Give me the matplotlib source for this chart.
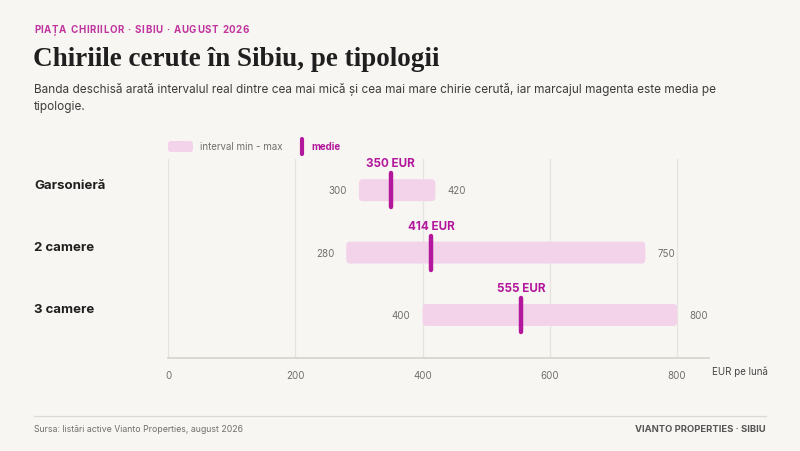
import matplotlib
matplotlib.use("Agg")
import matplotlib.pyplot as plt
import matplotlib.transforms as mtransforms
from matplotlib.patches import FancyBboxPatch
from matplotlib.lines import Line2D

categories = ["Garsonieră", "2 camere", "3 camere"]
min_vals = [300, 280, 400]
max_vals = [420, 750, 800]
mean_vals = [350, 414, 555]
x_ticks = [0, 200, 400, 600, 800]

BG = "#f8f6f2"
PINK = "#f3d3ea"
MAGENTA = "#b3179c"
GRID = "#e7e3dd"
DARK = "#1f1f1f"
GRAY = "#6f6f6f"

W, H = 800, 452
fig = plt.figure(figsize=(8, 4.52), dpi=100, facecolor=BG)

def px(x, y):
    return x / W, 1 - y / H

ax_left, ax_right, ax_top, ax_bottom = 168, 709, 160, 359
ax = fig.add_axes([ax_left / W, 1 - ax_bottom / H, (ax_right - ax_left) / W, (ax_bottom - ax_top) / H])
ax.set_facecolor(BG)
ax.set_xlim(0, 850)
ax.set_ylim(2.69, -0.5)
for s in ax.spines.values():
    s.set_visible(False)
ax.set_yticks([])
ax.set_xticks(x_ticks)
ax.set_xticklabels([str(t) for t in x_ticks], fontsize=7, color=GRAY, family="Inter")
ax.tick_params(axis="x", length=0, pad=9)
for t in x_ticks:
    ax.axvline(t, color=GRID, lw=0.9, zorder=0)
ax.plot([0, 850], [2.69, 2.69], color="#d6d2cb", lw=1.2, clip_on=False, zorder=1)

xppu = (ax_right - ax_left) / 850.0
yppu = (ax_bottom - ax_top) / 3.19
aspect = (1 / yppu) / (1 / xppu)
bar_h = 22 / yppu
mark_h = 34 / yppu
label_tf = mtransforms.blended_transform_factory(fig.transFigure, ax.transData)

for i, (lo, hi, m) in enumerate(zip(min_vals, max_vals, mean_vals)):
    box = FancyBboxPatch((lo, i - bar_h / 2), hi - lo, bar_h,
                         boxstyle="round,pad=0,rounding_size=%f" % (4 / xppu),
                         mutation_aspect=aspect, facecolor=PINK, edgecolor="none", zorder=2)
    ax.add_patch(box)
    ax.plot([m, m], [i - mark_h / 2, i + mark_h / 2], color=MAGENTA, lw=3.2,
            solid_capstyle="round", zorder=3)
    ax.text(m, i - 27 / yppu, f"{m} EUR", ha="center", va="center", fontsize=8.4,
            fontweight="bold", color=MAGENTA, family="Inter", zorder=4)
    ax.text(lo - 12 / xppu, i, str(lo), ha="right", va="center", fontsize=7,
            color=GRAY, family="Inter")
    ax.text(hi + 12 / xppu, i, str(hi), ha="left", va="center", fontsize=7,
            color=GRAY, family="Inter")
    ax.text(34 / W, i - 5.5 / yppu, categories[i], transform=label_tf,
            ha="left", va="center", fontsize=9.5, fontweight="bold", color=DARK, family="Inter")

fig.text(*px(712, 372), "EUR pe lună", ha="left", va="center", fontsize=7, color="#444444", family="Inter")

# legend
fig.patches.append(FancyBboxPatch(px(168, 153), 25 / W, 11 / H, boxstyle="round,pad=0,rounding_size=0.004",
                                  mutation_aspect=W / H, transform=fig.transFigure,
                                  facecolor=PINK, edgecolor="none"))
fig.text(*px(200, 147.5), "interval min - max", ha="left", va="center", fontsize=7, color=GRAY, family="Inter")
fig.lines.append(Line2D([302 / W, 302 / W], [1 - 140 / H, 1 - 155 / H], transform=fig.transFigure,
                        color=MAGENTA, lw=3, solid_capstyle="round"))
fig.text(*px(311, 147.5), "medie", ha="left", va="center", fontsize=7, fontweight="bold", color=MAGENTA, family="Inter")

# header with letter spacing
def spaced_text(x0, y, s, spacing_px, **kw):
    renderer = fig.canvas.get_renderer()
    x = x0
    for ch in s:
        t = fig.text(*px(x, y), ch, ha="left", va="center", **kw)
        if ch == " ":
            w = t.get_fontsize() * 100 / 72 * 0.28
        else:
            w = t.get_window_extent(renderer).width
        x += w + spacing_px

spaced_text(34, 30, "PIAȚA CHIRIILOR · SIBIU · AUGUST 2026", 0.6, fontsize=7.0,
            fontweight="bold", color="#c0359f", family="Inter")

fig.text(*px(33, 59), "Chiriile cerute în Sibiu, pe tipologii", ha="left", va="center", fontsize=19.5,
         fontweight="bold", color=DARK, family="Liberation Serif")
fig.text(*px(34, 90), "Banda deschisă arată intervalul real dintre cea mai mică și cea mai mare chirie cerută, iar marcajul magenta este media pe",
         ha="left", va="center", fontsize=8.5, color="#3d3d3d", family="Inter")
fig.text(*px(34, 107), "tipologie.", ha="left", va="center", fontsize=8.5, color="#3d3d3d", family="Inter")

# footer
fig.lines.append(Line2D([34 / W, 766 / W], [1 - 417 / H, 1 - 417 / H], transform=fig.transFigure,
                        color="#dedad3", lw=0.9))
fig.text(*px(34, 430), "Sursa: listări active Vianto Properties, august 2026", ha="left", va="center",
         fontsize=6.3, color=GRAY, family="Inter")
fig.text(*px(766, 430), "VIANTO PROPERTIES · SIBIU", ha="right", va="center", fontsize=6.8,
         fontweight="bold", color="#555555", family="Inter")

fig.savefig("out.png", dpi=100, facecolor=BG)
